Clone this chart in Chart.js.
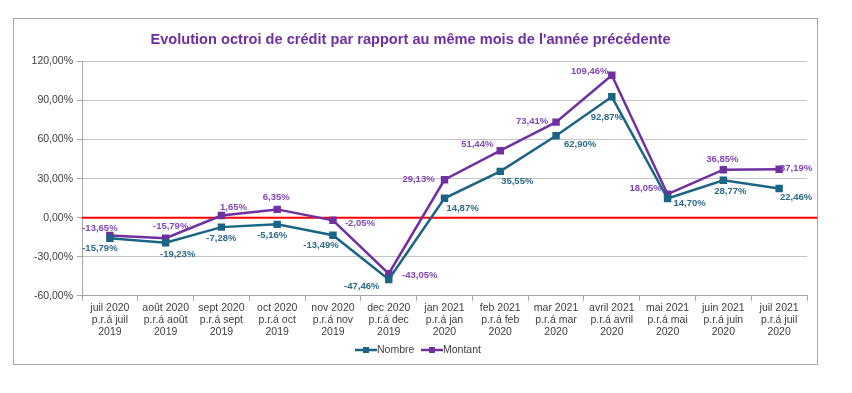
<!DOCTYPE html>
<html lang="fr">
<head>
<meta charset="UTF-8">
<title>Evolution octroi de crédit</title>
<script src="https://cdn.jsdelivr.net/npm/chart.js"></script>
<style>
    html, body { margin: 0; padding: 0; background: #fff; }
    #wrap { width: 852px; height: 393px; position: relative; }
</style>
</head>
<body>
<div id="wrap"><canvas id="creditChart"></canvas></div>
<script>
    // Données
    const categories = [
        ['juil 2020', 'p.r.á juil', '2019'],
        ['août 2020', 'p.r.á août', '2019'],
        ['sept 2020', 'p.r.á sept', '2019'],
        ['oct 2020', 'p.r.á oct', '2019'],
        ['nov 2020', 'p.r.á nov', '2019'],
        ['dec 2020', 'p.r.á dec', '2019'],
        ['jan 2021', 'p.r.á jan', '2020'],
        ['feb 2021', 'p.r.á feb', '2020'],
        ['mar 2021', 'p.r.á mar', '2020'],
        ['avril 2021', 'p.r.á avril', '2020'],
        ['mai 2021', 'p.r.á mai', '2020'],
        ['juin 2021', 'p.r.á juin', '2020'],
        ['juil 2021', 'p.r.á juil', '2020']
    ];
    const nombre = [-15.79, -19.23, -7.28, -5.16, -13.49, -47.46, 14.87, 35.55, 62.90, 92.87, 14.70, 28.77, 22.46];
    const montant = [-13.65, -15.79, 1.65, 6.35, -2.05, -43.05, 29.13, 51.44, 73.41, 109.46, 18.05, 36.85, 37.19];
    const yTicks = [-60, -30, 0, 30, 60, 90, 120];

    const fmt = v => v.toFixed(2).replace('.', ',') + '%';

    // placement des étiquettes (dx, dy par rapport au point)
    const nombreLabelPos = [[-10, 10], [12, 12], [0, 11], [-5, 11], [-12, 10], [-27, 7], [18, 10], [17, 10], [24, 9], [-5, 21], [22, 5], [7, 11], [17, 9]];
    const montantLabelPos = [[-10, -7], [5, -12], [12, -8], [-1, -12], [27, 3], [31, 2], [-26, 0], [-23, -6], [-24, -1], [-22, -4], [-22, -6], [-1, -10], [17, -1]];

    const frame = {
        id: 'frame',
        beforeDraw(chart) {
            const ctx = chart.ctx;
            ctx.save();
            ctx.strokeStyle = '#a6a6a6';
            ctx.lineWidth = 1;
            ctx.strokeRect(13.5, 18.5, 804, 346);
            ctx.restore();
        },
        beforeDatasetsDraw(chart) {
            const ctx = chart.ctx;
            const y = chart.scales.y.getPixelForValue(0);
            ctx.save();
            ctx.strokeStyle = '#ff0000';
            ctx.lineWidth = 2;
            ctx.beginPath();
            ctx.moveTo(chart.chartArea.left, y);
            ctx.lineTo(817, y);
            ctx.stroke();
            ctx.restore();
        },
        afterDatasetsDraw(chart) {
            const ctx = chart.ctx;
            ctx.save();
            ctx.font = 'bold 9.5px "Liberation Sans", Arial, sans-serif';
            ctx.textAlign = 'center';
            ctx.textBaseline = 'middle';
            const sets = [[0, nombreLabelPos, '#2b6a88'], [1, montantLabelPos, '#8049b3']];
            sets.forEach(([di, pos, col]) => {
                const meta = chart.getDatasetMeta(di);
                const data = chart.data.datasets[di].data;
                ctx.fillStyle = col;
                meta.data.forEach((pt, i) => {
                    ctx.fillText(fmt(data[i]), pt.x + pos[i][0], pt.y + pos[i][1]);
                });
            });

            // légende
            const ly = 350;
            const items = [['Nombre', '#1b6584', 355], ['Montant', '#7030a0', 421]];
            ctx.font = '10.5px "Liberation Sans", Arial, sans-serif';
            ctx.textAlign = 'left';
            items.forEach(([txt, col, x]) => {
                ctx.strokeStyle = col;
                ctx.lineWidth = 2.5;
                ctx.beginPath();
                ctx.moveTo(x, ly);
                ctx.lineTo(x + 22, ly);
                ctx.stroke();
                ctx.fillStyle = col;
                ctx.fillRect(x + 8, ly - 3, 6, 6);
                ctx.fillStyle = '#404040';
                ctx.fillText(txt, x + 22, ly);
            });
            ctx.restore();
        }
    };

    new Chart(document.getElementById('creditChart'), {
        type: 'line',
        data: {
            labels: categories,
            datasets: [{
                label: 'Nombre',
                data: nombre,
                borderColor: '#1b6584',
                backgroundColor: '#1b6584',
                borderWidth: 2.5,
                pointStyle: 'rect',
                pointRadius: 3.5,
                tension: 0
            }, {
                label: 'Montant',
                data: montant,
                borderColor: '#7030a0',
                backgroundColor: '#7030a0',
                borderWidth: 2.5,
                pointStyle: 'rect',
                pointRadius: 3.5,
                tension: 0
            }]
        },
        options: {
            responsive: true,
            maintainAspectRatio: false,
            animation: false,
            layout: { padding: { left: 14, right: 45, top: 0, bottom: 53 } },
            plugins: {
                legend: { display: false },
                tooltip: { enabled: false },
                title: {
                    display: true,
                    text: "Evolution octroi de crédit par rapport au même mois de l'année précédente",
                    color: '#7030a0',
                    font: { family: '"Liberation Sans", Arial, sans-serif', size: 14.6, weight: 'bold' },
                    padding: { top: 31, bottom: 13 }
                }
            },
            scales: {
                x: {
                    offset: true,
                    grid: { offset: true, drawOnChartArea: false, color: '#a6a6a6', tickLength: 5 },
                    border: { color: '#a6a6a6' },
                    ticks: {
                        color: '#404040',
                        padding: 2,
                        maxRotation: 0,
                        autoSkip: false,
                        font: { family: '"Liberation Sans", Arial, sans-serif', size: 10.5, lineHeight: 1.12 }
                    }
                },
                y: {
                    min: yTicks[0],
                    max: yTicks[yTicks.length - 1],
                    afterFit(scale) { scale.width = 68; },
                    afterBuildTicks(scale) { scale.ticks = yTicks.map(v => ({ value: v })); },
                    grid: { color: '#c4c4c4', tickLength: 5, tickColor: '#a6a6a6' },
                    border: { color: '#a6a6a6' },
                    ticks: {
                        color: '#404040',
                        padding: 4,
                        font: { family: '"Liberation Sans", Arial, sans-serif', size: 10.5 },
                        callback: v => fmt(v)
                    }
                }
            }
        },
        plugins: [frame]
    });
</script>
</body>
</html>
